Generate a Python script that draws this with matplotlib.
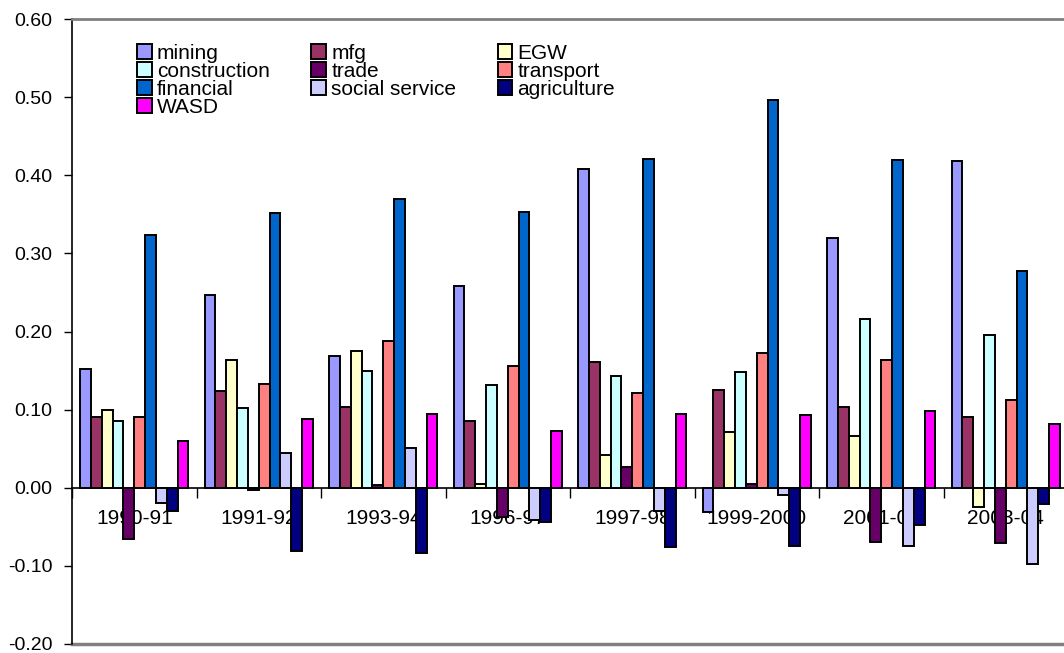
import numpy as np
import matplotlib
matplotlib.use('Agg')
from matplotlib import pyplot as plt

plt.rcParams['font.family'] = ['Liberation Sans', 'DejaVu Sans']
plt.rcParams['axes.unicode_minus'] = False

years = ['1990-91', '1991-92', '1993-94', '1996-97', '1997-98', '1999-2000', '2001-02', '2003-04']

mining = [0.152, 0.247, 0.169, 0.258, 0.408, -0.031, 0.320, 0.418]
mfg = [0.091, 0.124, 0.103, 0.086, 0.161, 0.125, 0.103, 0.091]
egw = [0.099, 0.163, 0.175, 0.005, 0.042, 0.071, 0.066, -0.025]
construction = [0.085, 0.102, 0.150, 0.131, 0.143, 0.148, 0.216, 0.195]
trade = [-0.066, -0.003, 0.003, -0.038, 0.026, 0.005, -0.070, -0.071]
transport = [0.091, 0.133, 0.188, 0.156, 0.121, 0.173, 0.164, 0.112]
financial = [0.323, 0.352, 0.370, 0.353, 0.421, 0.496, 0.419, 0.278]
social_service = [-0.019, 0.044, 0.051, -0.041, -0.030, -0.009, -0.074, -0.097]
agriculture = [-0.030, -0.081, -0.084, -0.044, -0.076, -0.075, -0.048, -0.021]
wasd = [0.060, 0.088, 0.094, 0.073, 0.094, 0.093, 0.098, 0.082]

series_names = ['mining', 'mfg', 'EGW', 'construction', 'trade', 'transport',
                'financial', 'social service', 'agriculture', 'WASD']
series = [mining, mfg, egw, construction, trade, transport,
          financial, social_service, agriculture, wasd]
colors = ['#9999FF', '#993366', '#FFFFCC', '#CCFFFF', '#660066', '#FF8080',
          '#0066CC', '#CCCCFF', '#000080', '#FF00FF']

fig = plt.figure(figsize=(10.64, 6.53), dpi=100)
ax = fig.add_axes([72 / 1064, 9 / 653, 996 / 1064, 625 / 653])

x = np.arange(len(years))
w = 1 / 11.5  # excel gap width 150%
handles = []
for j, (vals, c) in enumerate(zip(series, colors)):
    b = ax.bar(x + (j - 4.5) * w, vals, w, color=c, edgecolor='black',
               linewidth=1.4, label=series_names[j], zorder=3)
    handles.append(b)

ax.set_xlim(-0.5, len(years) - 0.5)
ax.set_ylim(-0.2, 0.6)
ax.set_yticks(np.arange(-0.2, 0.61, 0.1))
ax.set_yticklabels(['%.2f' % v for v in np.arange(-0.2, 0.61, 0.1)], fontsize=14)
ax.tick_params(axis='y', direction='out', length=6, width=1, pad=8)

# category axis sits on zero
ax.spines['bottom'].set_position(('data', 0))
ax.spines['bottom'].set_linewidth(1.2)
ax.spines['left'].set_linewidth(1.2)
ax.spines['top'].set_color('#808080')
ax.spines['top'].set_linewidth(2)
ax.spines['right'].set_color('#808080')
ax.spines['right'].set_linewidth(2)
ax.plot([0, 1], [0, 0], transform=ax.transAxes, color='#808080', lw=2.5, clip_on=False)

ax.set_xticks(x)
ax.set_xticklabels(years, fontsize=15)
ax.set_xticks(np.arange(-0.5, len(years), 1), minor=True)
ax.tick_params(axis='x', which='major', length=0, pad=15)
ax.tick_params(axis='x', which='minor', direction='out', length=7, width=1)

# legend laid out row-wise like the original
order = [0, 3, 6, 9, 1, 4, 7, 2, 5, 8]
leg = fig.legend([handles[i] for i in order], [series_names[i] for i in order],
                 loc='upper left', bbox_to_anchor=(137 / 1064, 1 - 44 / 653),
                 ncol=3, frameon=False, fontsize=15, borderpad=0,
                 handlelength=0.7, handleheight=0.7, handletextpad=0.25,
                 labelspacing=-0.05, columnspacing=2.0, borderaxespad=0)

plt.savefig('out.png', dpi=100)
